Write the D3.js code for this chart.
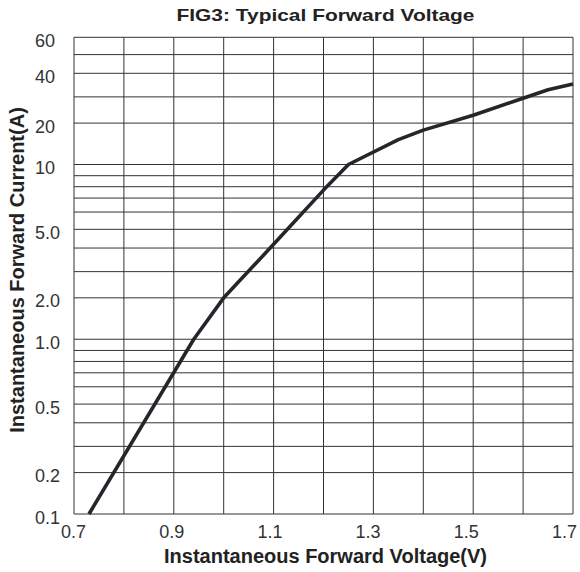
<!DOCTYPE html>
<html>
<head>
<meta charset="utf-8">
<script src="https://cdn.jsdelivr.net/npm/d3@7"></script>
<style>
  body { margin: 0; background: #fff; }
  svg { display: block; }
</style>
</head>
<body>
<svg id="chart" width="580" height="572"></svg>
<script>
// curve
var voltage = [0.73, 0.94, 1.0, 1.1, 1.2, 1.25, 1.35, 1.4, 1.5, 1.6, 1.65, 1.7];
var current = [0.1, 1.0, 2.0, 4.2, 7.7, 10, 16, 18.3, 23, 29.5, 33, 35.5];

// grid + ticks
var xGrid = [0.7, 0.8, 0.9, 1.0, 1.1, 1.2, 1.3, 1.4, 1.5, 1.6, 1.7];
var yGrid = [0.1, 0.2, 0.3, 0.4, 0.5, 0.6, 0.7, 0.8, 0.9,
             1, 2, 3, 4, 5, 6, 7, 8, 9,
             10, 20, 30, 40, 50, 60];
var xTicks = [0.7, 0.9, 1.1, 1.3, 1.5, 1.7];
var xTickLabels = ["0.7", "0.9", "1.1", "1.3", "1.5", "1.7"];
var yTicks = [0.1, 0.2, 0.5, 1, 2, 5, 10, 20, 40, 60];
var yTickLabels = ["0.1", "0.2", "0.5", "1.0", "2.0", "5.0", "10", "20", "40", "60"];

var svg = d3.select("svg#chart");
var plotL = 74, plotR = 573, plotT = 37.3, plotB = 514;

var x = d3.scaleLinear().domain([0.7, 1.7]).range([plotL, plotR]);

// the printed log paper is not a true log scale: each decade splits
// 1..10 at these fractions, so the y scale is piecewise linear through them
var mantissaFrac = [0, 0.237, 0.387, 0.522, 0.629, 0.728, 0.808, 0.873, 0.936];
var decadePx = (plotB - plotT) / (2 + mantissaFrac[5]);
function paperPos(v) {
  var dec = Math.floor(Math.log10(v) + 1e-9);
  var m = Math.round(v / Math.pow(10, dec));
  return plotB - ((dec + 1) + mantissaFrac[m - 1]) * decadePx;
}
var y = d3.scaleLinear().domain(yGrid).range(yGrid.map(paperPos));

var grid = svg.append("g")
  .attr("stroke", "#333")
  .attr("stroke-width", 1);

xGrid.forEach(function(v) {
  grid.append("line")
    .attr("x1", x(v)).attr("x2", x(v))
    .attr("y1", y(0.1)).attr("y2", y(60));
});
yGrid.forEach(function(v) {
  grid.append("line")
    .attr("x1", x(0.7)).attr("x2", x(1.7))
    .attr("y1", y(v)).attr("y2", y(v));
});

var line = d3.line()
  .x(function(d, i) { return x(voltage[i]); })
  .y(function(d, i) { return y(current[i]); });

svg.append("path")
  .datum(voltage)
  .attr("d", line)
  .attr("fill", "none")
  .attr("stroke", "#23272b")
  .attr("stroke-width", 3.6)
  .attr("stroke-linejoin", "round");

var xAxis = svg.append("g")
  .attr("transform", "translate(0," + plotB + ")")
  .call(d3.axisBottom(x).tickValues(xTicks).tickSize(0)
    .tickFormat(function(d, i) { return xTickLabels[i]; }));
xAxis.select(".domain").remove();
// labels on the original drift a little left of their grid lines
xAxis.selectAll("text")
  .attr("y", 24)
  .attr("dy", 0)
  .attr("dx", function(d) { return -1 - 8 * (d - 0.7); })
  .style("font", "18px 'Liberation Sans', Arial, sans-serif")
  .attr("fill", "#333");

var yAxis = svg.append("g")
  .attr("transform", "translate(" + plotL + ",0)")
  .call(d3.axisLeft(y).tickValues(yTicks).tickSize(0)
    .tickFormat(function(d, i) { return yTickLabels[i]; }));
yAxis.select(".domain").remove();
yAxis.selectAll("text")
  .attr("text-anchor", "start")
  .attr("x", 35 - plotL)
  .attr("dy", 9)
  .style("font", "18px 'Liberation Sans', Arial, sans-serif")
  .attr("fill", "#333");

svg.append("text")
  .text("FIG3: Typical Forward Voltage")
  .attr("x", (plotL + plotR) / 2 + 2)
  .attr("y", 20.5)
  .attr("text-anchor", "middle")
  .attr("textLength", 298)
  .attr("lengthAdjust", "spacingAndGlyphs")
  .style("font", "bold 16.5px 'Liberation Sans', Arial, sans-serif")
  .attr("fill", "#222");

svg.append("text")
  .text("Instantaneous Forward Voltage(V)")
  .attr("x", (plotL + plotR) / 2 + 2)
  .attr("y", 563)
  .attr("text-anchor", "middle")
  .style("font", "bold 20px 'Liberation Sans', Arial, sans-serif")
  .attr("fill", "#222");

svg.append("text")
  .text("Instantaneous Forward Current(A)")
  .attr("transform", "translate(24," + 270 + ") rotate(-90)")
  .attr("text-anchor", "middle")
  .style("font", "bold 20px 'Liberation Sans', Arial, sans-serif")
  .attr("fill", "#222");
</script>
</body>
</html>
